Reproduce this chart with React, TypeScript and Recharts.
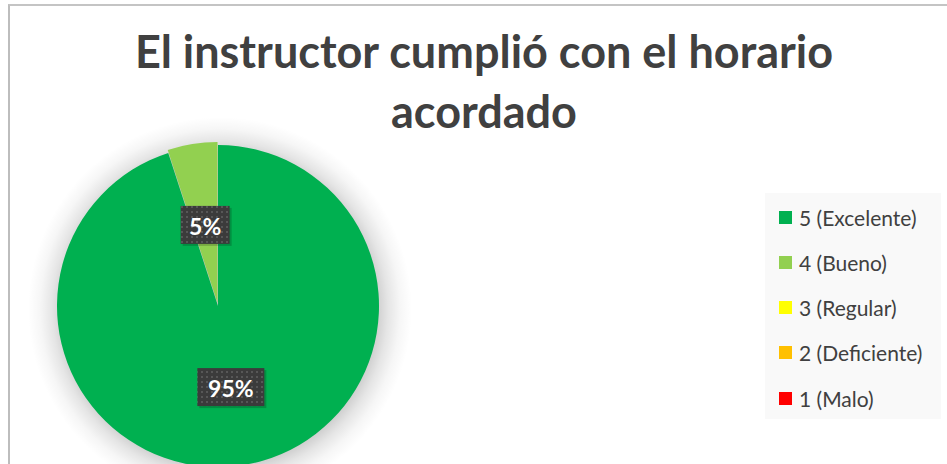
import React from "react";
import { PieChart, Pie, Cell } from "recharts";

const categories = ["5 (Excelente)", "4 (Bueno)", "3 (Regular)", "2 (Deficiente)", "1 (Malo)"];
const values = [95, 5, 0, 0, 0];
const colors = ["#00B050", "#92D050", "#FFFF00", "#FFC000", "#FF0000"];
const title = ["El instructor cumplió con el horario", "acordado"];

const data = categories.map((name, i) => ({ name, value: values[i] }));
const RAD = Math.PI / 180;
const EXPLODED = 1;
const CX = 218;
const CY = 306;
const R = 161;

const renderLabel = (props: any) => {
  const { cx, cy, midAngle, outerRadius, value, index } = props;
  if (!value) return null;
  const r = outerRadius * 0.51;
  const x = cx + r * Math.cos(-midAngle * RAD);
  const y = cy + r * Math.sin(-midAngle * RAD);
  const txt = `${Math.round(props.percent * 100)}%`;
  const w = txt.length === 2 ? 49 : 67;
  const h = 38;
  return (
    <g key={`lbl-${index}`}>
      <rect x={x - w / 2 + 2} y={y - h / 2 + 2} width={w} height={h} fill="rgba(0,0,0,0.18)" />
      <rect x={x - w / 2} y={y - h / 2} width={w} height={h} fill="url(#lblPattern)" />
      <text
        x={x}
        y={y + 1}
        textAnchor="middle"
        dominantBaseline="central"
        fill="#ffffff"
        fontFamily="Lato, 'Open Sans', sans-serif"
        fontWeight={700}
        fontSize={23}
      >
        {txt}
      </text>
    </g>
  );
};

const SH = 200;

export default function App() {
  return (
    <div style={{ position: "absolute", left: 0, top: 0, width: 947, height: 464, overflow: "hidden", background: "#fff" }}>
      <svg width={1} height={1} style={{ position: "absolute", left: 0, top: 0 }}>
        <defs>
          <pattern id="lblPattern" width="5" height="5" patternUnits="userSpaceOnUse">
            <rect width="5" height="5" fill="#3b3b3b" />
            <rect x="1" y="1" width="2" height="2" fill="#575757" />
          </pattern>
        </defs>
      </svg>
      <div
        style={{
          position: "absolute",
          left: 8,
          top: 4,
          width: 1000,
          height: 500,
          borderLeft: "2px solid #bdbdbd",
          borderTop: "2px solid #c4c4c4",
          boxSizing: "border-box",
        }}
      />
      <div
        style={{
          position: "absolute",
          left: CX + 2 - SH,
          top: CY + 3 - SH,
          width: 2 * SH,
          height: 2 * SH,
          background:
            "radial-gradient(circle closest-side, rgba(0,0,0,0.22) 0%, rgba(0,0,0,0.2) 78%, rgba(0,0,0,0.1) 84%, rgba(0,0,0,0.035) 90%, rgba(0,0,0,0) 96%)",
        }}
      />
      <div
        style={{
          position: "absolute",
          left: 84,
          width: 800,
          top: 21,
          textAlign: "center",
          fontFamily: "Lato, 'Open Sans', sans-serif",
          fontWeight: 700,
          fontSize: 45,
          lineHeight: "60px",
          color: "#404040",
        }}
      >
        <div>{title[0]}</div>
        <div>{title[1]}</div>
      </div>
      <div style={{ position: "absolute", left: 0, top: 0 }}>
        <PieChart width={947} height={464} margin={{ top: 0, right: 0, bottom: 0, left: 0 }}>
          <Pie
            data={data}
            dataKey="value"
            cx={CX - 0.5}
            cy={CY - 3}
            outerRadius={R}
            startAngle={90}
            endAngle={-270}
            stroke="none"
            isAnimationActive={false}
            labelLine={false}
          >
            {data.map((d, i) => (
              <Cell key={i} fill={i === EXPLODED ? colors[i] : "transparent"} />
            ))}
          </Pie>
          <Pie
            data={data}
            dataKey="value"
            cx={CX}
            cy={CY}
            outerRadius={R}
            startAngle={90}
            endAngle={-270}
            stroke="none"
            isAnimationActive={false}
            labelLine={false}
            label={renderLabel}
          >
            {data.map((d, i) => (
              <Cell key={i} fill={i === EXPLODED ? "transparent" : colors[i]} />
            ))}
          </Pie>
        </PieChart>
      </div>
      <div
        style={{
          position: "absolute",
          left: 765,
          top: 193,
          width: 176,
          height: 226,
          background: "#f9f9f9",
        }}
      >
        {categories.map((c, i) => (
          <div
            key={c}
            style={{
              position: "absolute",
              left: 14,
              top: 11 + i * 45.3,
              height: 26,
              display: "flex",
              alignItems: "center",
              whiteSpace: "nowrap",
              fontFamily: "Lato, 'Open Sans', sans-serif",
              fontSize: 21,
              color: "#404040",
            }}
          >
            <span style={{ display: "inline-block", width: 13, height: 13, background: colors[i], marginRight: 7 }} />
            <span>{c}</span>
          </div>
        ))}
      </div>
    </div>
  );
}
